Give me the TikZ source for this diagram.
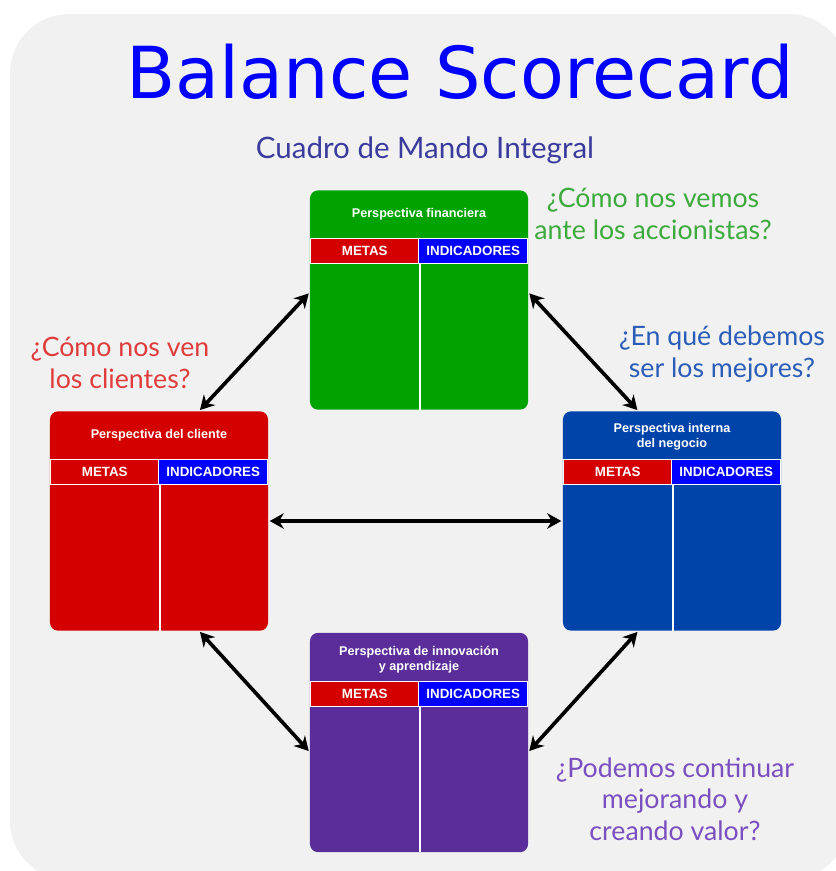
\documentclass[tikz,border=0pt]{standalone}
\usepackage{fontspec}
\setmainfont{Liberation Sans}
\newfontfamily\titlefont{DejaVu Sans}
\newfontfamily\askfont{Lato}
\usepackage{xcolor}
\usetikzlibrary{arrows.meta}
\definecolor{bgray}{HTML}{F1F1F1}
\definecolor{titleblue}{HTML}{0000FF}
\definecolor{subblue}{HTML}{3B3B9E}
\definecolor{fingreen}{HTML}{00A300}
\definecolor{clired}{HTML}{D40000}
\definecolor{intblue}{HTML}{0044AA}
\definecolor{innpurple}{HTML}{5A2D9A}
\definecolor{bandred}{HTML}{D40000}
\definecolor{bandblue}{HTML}{0000FF}
\definecolor{askgreen}{HTML}{3DAA3D}
\definecolor{askred}{HTML}{E03C3C}
\definecolor{askblue}{HTML}{2A5DB8}
\definecolor{askpurple}{HTML}{7A4FC0}

\begin{document}
\begin{tikzpicture}[x=0.025cm, y=-0.025cm,
  card/.style={rounded corners=5.7pt, minimum width=5.45cm, minimum height=5.48cm, inner sep=0pt},
  cardtitle/.style={text=white, font=\bfseries\fontsize{9}{10.8}\selectfont, align=center},
  band/.style={draw=white, line width=0.8pt, minimum width=2.725cm, minimum height=0.63cm, inner sep=0pt, text=white, font=\bfseries\fontsize{9.5}{11}\selectfont},
  metas/.style={band, fill=bandred, anchor=north west},
  indic/.style={band, fill=bandblue, anchor=north east},
  split/.style={draw=white, line width=1pt},
  link/.style={{Stealth[length=10pt,width=11pt]}-{Stealth[length=10pt,width=11pt]}, line width=2.6pt, shorten <=1pt, shorten >=1pt},
  ask/.style={font=\askfont\fontsize{19}{22.5}\selectfont, align=center}]
\useasboundingbox (0,0) rectangle (836,871);
\begin{scope}
  \clip (0,0) rectangle (836,871);
  \fill[bgray, rounded corners=42pt] (10,14) rectangle (848,880); %panel
\end{scope}
  \node[text=titleblue, font=\titlefont\fontsize{51}{60}\selectfont] (title) at (460,72) {Balance Scorecard};
  \node[text=subblue, font=\askfont\fontsize{21}{25}\selectfont] (subtitle) at (425,150) {Cuadro de Mando Integral};
  % cards
  \node[card, fill=fingreen] (fin) at (419,300) {}; %financiera
  \node[card, fill=clired] (cli) at (159,521) {}; %cliente
  \node[card, fill=intblue] (int) at (672,521) {}; %interna
  \node[card, fill=innpurple] (inn) at (419,742.5) {}; %innovacion
  \node[cardtitle] (finT) at ([yshift=-0.6cm]fin.north) {Perspectiva financiera};
  \node[cardtitle] (cliT) at ([yshift=-0.6cm]cli.north) {Perspectiva del cliente};
  \node[cardtitle] (intT) at ([yshift=-0.65cm]int.north) {Perspectiva interna\\del negocio};
  \node[cardtitle] (innT) at ([yshift=-0.67cm]inn.north) {Perspectiva de innovación\\y aprendizaje};
  \node[metas] (finM) at ([yshift=-1.2cm]fin.north west) {METAS};
  \node[indic] (finI) at ([yshift=-1.2cm]fin.north east) {INDICADORES};
  \node[metas] (cliM) at ([yshift=-1.2cm]cli.north west) {METAS};
  \node[indic] (cliI) at ([yshift=-1.2cm]cli.north east) {INDICADORES};
  \node[metas] (intM) at ([yshift=-1.2cm]int.north west) {METAS};
  \node[indic] (intI) at ([yshift=-1.2cm]int.north east) {INDICADORES};
  \node[metas] (innM) at ([yshift=-1.2cm]inn.north west) {METAS};
  \node[indic] (innI) at ([yshift=-1.2cm]inn.north east) {INDICADORES};
  \draw[split] (finM.south east) -- (finM.south east |- fin.south);
  \draw[split] (cliM.south east) -- (cliM.south east |- cli.south);
  \draw[split] (intM.south east) -- (intM.south east |- int.south);
  \draw[split] (innM.south east) -- (innM.south east |- inn.south);
  % questions
  \node[ask, text=askgreen] (qfin) at (653,214) {¿Cómo nos vemos\\ante los accionistas?};
  \node[ask, text=askred] (qcli) at (120,363) {¿Cómo nos ven\\los clientes?};
  \node[ask, text=askblue] (qint) at (722,354) {¿En qué debemos\\ser los mejores?};
  \node[ask, text=askpurple] (qinn) at (675,799) {¿Podemos continuar\\mejorando y\\creando valor?};
  % links
  \draw[link] (fin.176) -- (cli.70);
  \draw[link] (fin.4) -- (int.107);
  \draw[link] (cli.east) -- (int.west);
  \draw[link] (cli.-70) -- (inn.185);
  \draw[link] (int.-107) -- (inn.-5);
\end{tikzpicture}
\end{document}
